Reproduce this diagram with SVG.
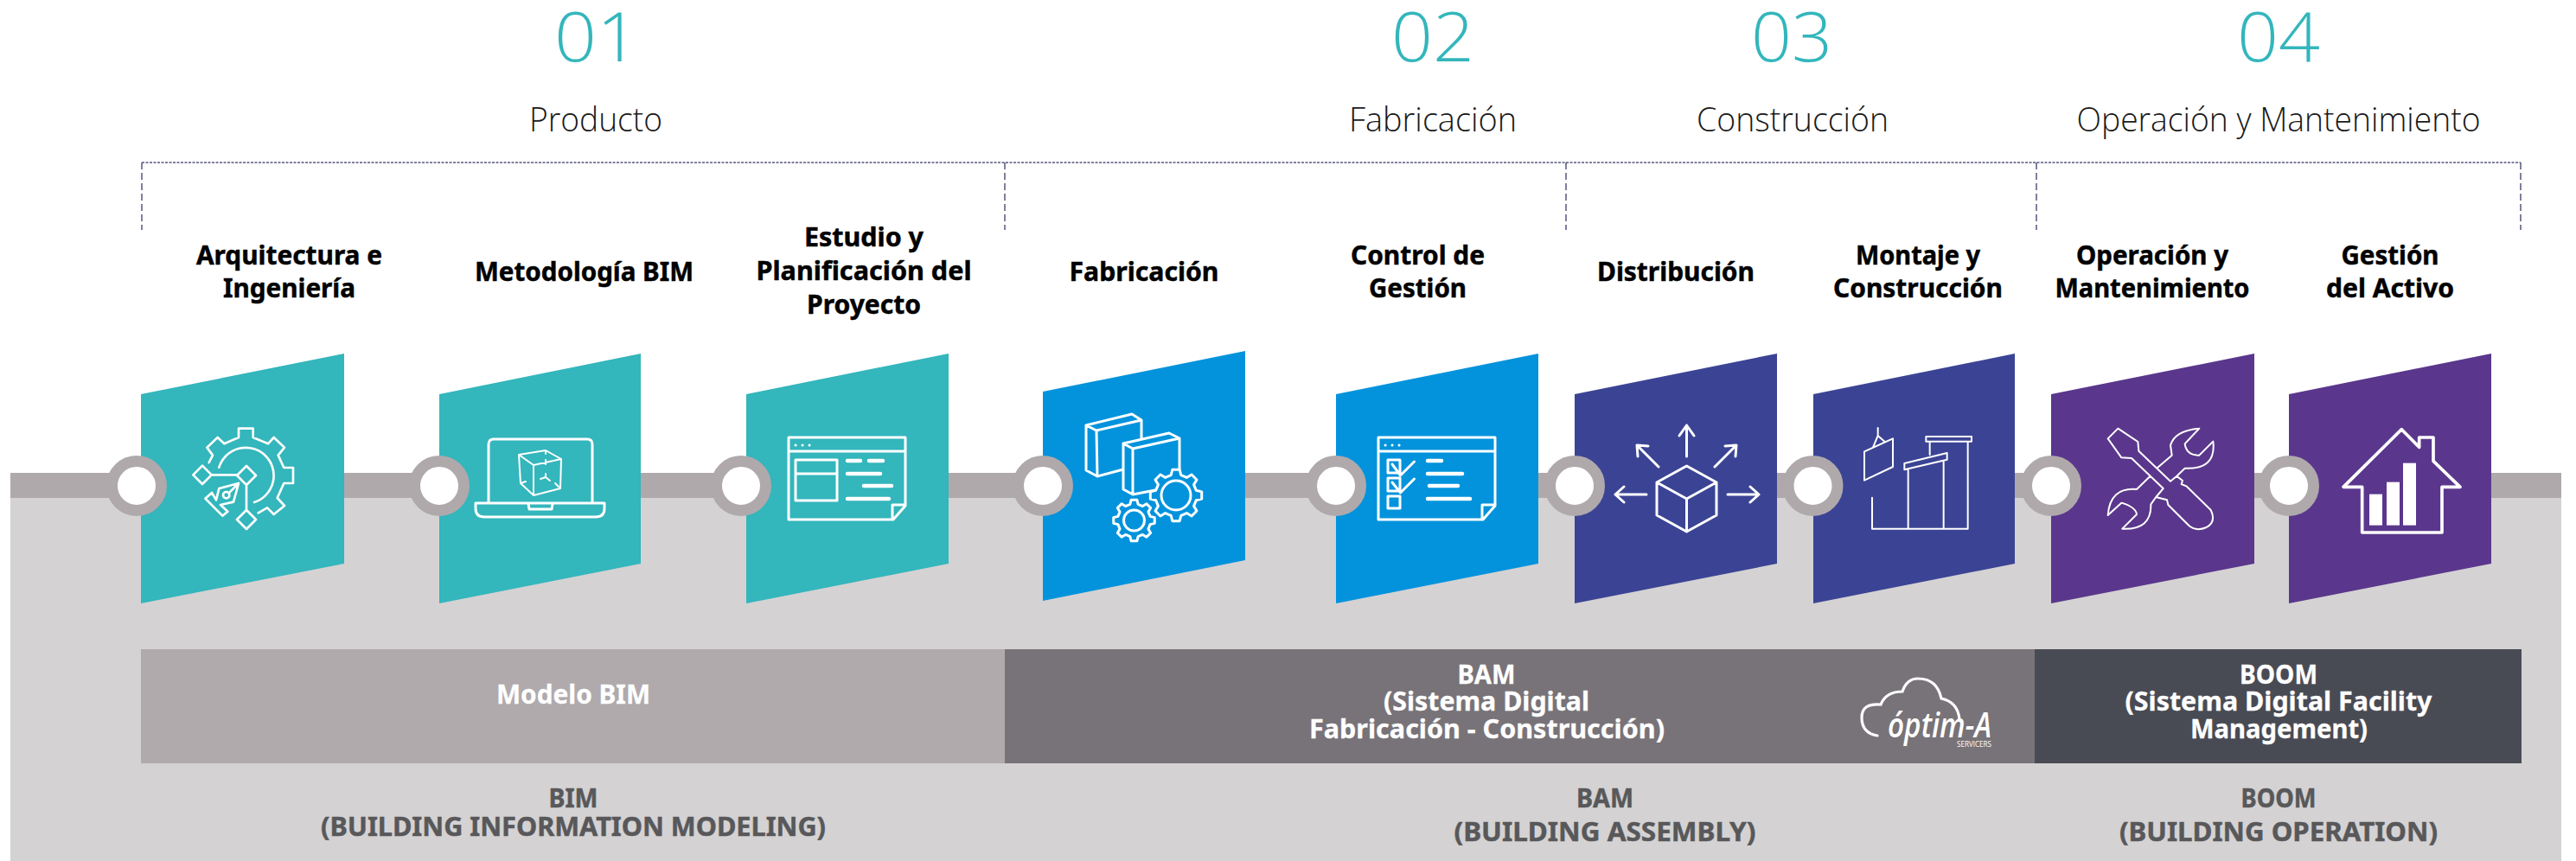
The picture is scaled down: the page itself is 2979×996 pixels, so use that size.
<svg xmlns="http://www.w3.org/2000/svg" xmlns:xlink="http://www.w3.org/1999/xlink" width="2979" height="996" viewBox="0 0 2979 996">
<style>
text{text-anchor:middle;font-family:"Noto Sans","Liberation Sans",sans-serif}
.num{font-family:"Open Sans","Noto Sans",sans-serif;font-weight:300;font-size:80px;fill:#33b6bc}
.sec{font-family:"Open Sans","Noto Sans",sans-serif;font-weight:300;font-size:39px;fill:#1a1a1a}
.lab{font-weight:700;font-size:31px;fill:#000;stroke:#000;stroke-width:.5}
.bar{font-weight:700;font-size:31px;fill:#fff;stroke:#fff;stroke-width:.3}
.sub{font-weight:700;font-size:31px;fill:#58585a;stroke:#58585a;stroke-width:.5}
.teal{fill:#33b6bc}.blue{fill:#0393dc}.ind{fill:#3b4494}.pur{fill:#5a378c}
.ring{fill:#fff;stroke:#afa9ac;stroke-width:13}
.ic{fill:none;stroke:#fff;stroke-width:3;stroke-linecap:round;stroke-linejoin:round}
.thin{stroke-width:2}
.z{stroke-width:8}
.zt{stroke-width:6}
.barw{fill:none;stroke:#fff;stroke-width:4.5;stroke-linecap:round}
.dh{fill:none;stroke:#55557f;stroke-width:1.5;stroke-dasharray:3 1.5}
.dv{fill:none;stroke:#55557f;stroke-width:1.5;stroke-dasharray:8 4}
.g{fill:none;stroke:#fff;stroke-width:3;stroke-linejoin:round;vector-effect:non-scaling-stroke}
</style>
<defs>
<polygon id="gear" class="g" points="99,13.9 77.6,19.4 68.6,41.2 79.9,60.2 60.2,79.9 41.2,68.6 19.4,77.6 13.9,99 -13.9,99 -19.4,77.6 -41.2,68.6 -60.2,79.9 -79.9,60.2 -68.6,41.2 -77.6,19.4 -99,13.9 -99,-13.9 -77.6,-19.4 -68.6,-41.2 -79.9,-60.2 -60.2,-79.9 -41.2,-68.6 -19.4,-77.6 -13.9,-99 13.9,-99 19.4,-77.6 41.2,-68.6 60.2,-79.9 79.9,-60.2 68.6,-41.2 77.6,-19.4 99,-13.9"/>
<g id="window">
<path class="ic" d="M912,506H1047V585L1033,601H912ZM1032,601V584H1047M912,522H1047"/>
<path class="ic" d="M920,515h.1M928,515h.1M936,515h.1"/>
</g>
</defs>
<rect id="bg" x="12" y="576" width="2950" height="420" fill="#d4d2d3"/>
<g id="connectors">
<rect x="12" y="547" width="2950" height="29" fill="#afa9ac"/>
<path class="dh" d="M164,188H2915"/>
<path class="dv" d="M164,188V266M1162,188V266M1811,188V266M2355,188V266M2915,188V266"/>
</g>
<g id="phase-01"><text class="num" x="690" y="71" textLength="98" lengthAdjust="spacingAndGlyphs">01</text><text class="sec" x="689" y="152" textLength="154" lengthAdjust="spacingAndGlyphs">Producto</text></g>
<g id="phase-02"><text class="num" x="1657" y="71" textLength="96" lengthAdjust="spacingAndGlyphs">02</text><text class="sec" x="1657" y="152" textLength="194" lengthAdjust="spacingAndGlyphs">Fabricación</text></g>
<g id="phase-03"><text class="num" x="2072" y="71" textLength="94" lengthAdjust="spacingAndGlyphs">03</text><text class="sec" x="2073" y="152" textLength="222" lengthAdjust="spacingAndGlyphs">Construcción</text></g>
<g id="phase-04"><text class="num" x="2635" y="71" textLength="96" lengthAdjust="spacingAndGlyphs">04</text><text class="sec" x="2635" y="152" textLength="467" lengthAdjust="spacingAndGlyphs">Operación y Mantenimiento</text></g>

<g id="node-arquitectura">
<polygon class="teal" points="163,456 398,409 398,652 163,698"/>
<circle class="ring" cx="158" cy="562" r="28.5"/>
<text class="lab" x="334.5" y="306" textLength="215" lengthAdjust="spacingAndGlyphs">Arquitectura e</text>
<text class="lab" x="334.5" y="344" textLength="153" lengthAdjust="spacingAndGlyphs">Ingeniería</text>
<g transform="translate(200 470) scale(.33333)"><path class="ic z" d="M125,195L138,170L118,143L155,108L178,130L228,108V77H278V108L330,130L350,108L387,143L365,170L385,213H417V267H385L362,318L387,345L350,375L327,352L296,370M160,212A97,97 0 1 1 282,333M70,238L102,206L134,238L102,270ZM222,240L255,207L288,240L255,273ZM222,393L255,360L288,393L255,426ZM134,238H222M255,273V360M228,267L160,285L150,325L135,300L112,320L172,380L190,365L165,342L210,332ZM228,267L197,298"/><circle class="ic z" cx="185" cy="308" r="11"/></g>
</g>

<g id="node-metodologia">
<polygon class="teal" points="508,456 741,409 741,652 508,698"/>
<circle class="ring" cx="508" cy="562" r="28.5"/>
<text class="lab" x="675.5" y="325" textLength="253" lengthAdjust="spacingAndGlyphs">Metodología BIM</text>
<path class="ic" d="M565,582V514Q565,508 571,508H679Q685,508 685,514V582M550,582H699V588Q699,598 689,598H560Q550,598 550,588ZM611,583L612,589H638L639,583"/>
<path class="ic thin" d="M600,526L631,521L649,531L617,538ZM600,526L602,559L617,573L648,565L649,531M617,538V573M631,521V525M631,532V537M631,552L625,554M631,552V548M631,552L636,556M602,559L608,557M642,559L646,563"/>
</g>

<g id="node-estudio">
<polygon class="teal" points="863,456 1097,409 1097,652 863,698"/>
<circle class="ring" cx="857" cy="562" r="28.5"/>
<text class="lab" x="999" y="285" textLength="138" lengthAdjust="spacingAndGlyphs">Estudio y</text>
<text class="lab" x="999" y="324" textLength="249" lengthAdjust="spacingAndGlyphs">Planificación del</text>
<text class="lab" x="999" y="363" textLength="132" lengthAdjust="spacingAndGlyphs">Proyecto</text>
<use xlink:href="#window" href="#window"/>
<path class="ic" d="M920,532H968V579H920ZM920,548H968"/>
<path class="barw" d="M980,533H995M1005,533H1021M980,548H1018M999,562H1031M980,577H1028"/>
</g>

<g id="node-fabricacion">
<polygon class="blue" points="1206,453 1440,406 1440,648 1206,695"/>
<circle class="ring" cx="1206" cy="562" r="28.5"/>
<text class="lab" x="1323" y="325" textLength="173" lengthAdjust="spacingAndGlyphs">Fabricación</text>
<path class="ic" d="M1268,498L1256,492L1309,479L1320,486L1268,498L1269,551L1256,544V492M1269,551L1299,543M1320,486V507M1310,519L1299,513L1352,501L1364,507L1310,519V572L1299,566V513M1310,572L1336,567M1364,507V543"/>
<use xlink:href="#gear" href="#gear" transform="translate(1360 573) scale(.3)"/>
<circle class="ic" cx="1360" cy="573" r="17"/>
<use xlink:href="#gear" href="#gear" transform="translate(1311.5 602) scale(.24)"/>
<circle class="ic" cx="1311.5" cy="602" r="12"/>
</g>

<g id="node-control">
<polygon class="blue" points="1545,456 1779,409 1779,652 1545,698"/>
<circle class="ring" cx="1545" cy="562" r="28.5"/>
<text class="lab" x="1639.5" y="306" textLength="155" lengthAdjust="spacingAndGlyphs">Control de</text>
<text class="lab" x="1639.5" y="344" textLength="113" lengthAdjust="spacingAndGlyphs">Gestión</text>
<use xlink:href="#window" href="#window" transform="translate(682 0)"/>
<path class="ic" d="M1605,532H1619V547H1605ZM1605,553H1619V568H1605ZM1605,574H1619V588H1605ZM1610,537L1619.5,550L1635.5,534M1610,558L1619.5,570L1635.5,554"/>
<path class="barw" d="M1651,533H1667M1651,548H1691M1653,562H1686M1651,577H1700"/>
</g>

<g id="node-distribucion">
<polygon class="ind" points="1821,456 2055,409 2055,652 1821,698"/>
<circle class="ring" cx="1821" cy="562" r="28.5"/>
<text class="lab" x="1938" y="325" textLength="182" lengthAdjust="spacingAndGlyphs">Distribución</text>
<path class="ic" d="M1950.5,539L1985,558L1950.5,577L1916,558ZM1916,558V596L1950.5,615L1985,596V558M1950.5,577V615M1950.5,528V492M1942,504L1950.5,492L1959,504M1918,540L1893,515M1894,528L1893,515L1906,516M1983,540L2008,515M2007,528L2008,515L1995,516M1904,572H1868M1878,563L1868,572L1878,581M1998,572H2034M2024,563L2034,572L2024,581"/>
</g>

<g id="node-montaje">
<polygon class="ind" points="2097,456 2330,409 2330,652 2097,698"/>
<circle class="ring" cx="2096.5" cy="562" r="28.5"/>
<text class="lab" x="2218" y="306" textLength="144" lengthAdjust="spacingAndGlyphs">Montaje y</text>
<text class="lab" x="2218" y="344" textLength="196" lengthAdjust="spacingAndGlyphs">Construcción</text>
<g transform="translate(2130 480) scale(.33333)"><path class="ic zt" d="M78,127L177,82V180L78,227ZM125,45V72M108,113L125,72L150,94M105,287V395H437V92M230,190V395M353,160V395M305,92V138M292,75H450V92H292ZM217,168L365,132V155L217,190Z"/></g>
</g>

<g id="node-operacion">
<polygon class="pur" points="2372,456 2607,409 2607,652 2372,698"/>
<circle class="ring" cx="2372" cy="562" r="28.5"/>
<text class="lab" x="2489" y="306" textLength="176" lengthAdjust="spacingAndGlyphs">Operación y</text>
<text class="lab" x="2489" y="344" textLength="225" lengthAdjust="spacingAndGlyphs">Mantenimiento</text>
<g transform="translate(2400 480) scale(.33333)"><path class="ic zt" d="M113,82L148,47L217,93L220,125L330,230L352,212L372,228L368,240L385,247L470,330Q490,370 455,390Q420,405 395,385L322,312L318,295L300,290L280,285L305,255L195,150L160,148ZM285,183L335,140L330,105Q345,55 430,47L380,100Q385,140 430,140L478,92Q490,190 380,185L352,212M260,212L213,258Q120,250 113,348L160,305Q210,320 213,345L163,395Q265,400 262,310L280,285"/></g>
</g>

<g id="node-gestion">
<polygon class="pur" points="2647,456 2881,409 2881,652 2647,698"/>
<circle class="ring" cx="2647" cy="562" r="28.5"/>
<text class="lab" x="2764" y="306" textLength="113" lengthAdjust="spacingAndGlyphs">Gestión</text>
<text class="lab" x="2764" y="344" textLength="148" lengthAdjust="spacingAndGlyphs">del Activo</text>
<g transform="translate(2400 480) scale(.33333)"><path class="ic" style="stroke-width:11" d="M930,250L1132,50L1193,112V78H1242V160L1335,250H1272V408H995V250Z"/><rect x="1020" y="275" width="45" height="108" fill="#fff"/><rect x="1080" y="233" width="45" height="150" fill="#fff"/><rect x="1137" y="167" width="45" height="216" fill="#fff"/></g>
</g>

<g id="band-bim">
<rect x="163" y="751" width="999" height="132" fill="#b0aaad"/>
<text class="bar" x="663" y="814" textLength="178" lengthAdjust="spacingAndGlyphs">Modelo BIM</text>
<text class="sub" x="663" y="934" textLength="57" lengthAdjust="spacingAndGlyphs">BIM</text>
<text class="sub" x="663" y="967" textLength="584" lengthAdjust="spacingAndGlyphs">(BUILDING INFORMATION MODELING)</text>
</g>
<g id="band-bam">
<rect x="1162" y="751" width="1191" height="132" fill="#787378"/>
<text class="bar" x="1719" y="791" textLength="67" lengthAdjust="spacingAndGlyphs">BAM</text>
<text class="bar" x="1719" y="822" textLength="238" lengthAdjust="spacingAndGlyphs">(Sistema Digital</text>
<text class="bar" x="1719.5" y="854" textLength="411" lengthAdjust="spacingAndGlyphs">Fabricación - Construcción)</text>
<text class="sub" x="1856" y="934" textLength="66" lengthAdjust="spacingAndGlyphs">BAM</text>
<text class="sub" x="1856" y="973" textLength="349" lengthAdjust="spacingAndGlyphs">(BUILDING ASSEMBLY)</text>
</g>
<g id="logo-optima">
<path d="M2171,851Q2153,848 2153,830Q2153,813 2175,815Q2181,800 2200,800Q2205,785 2218,785Q2240,785 2245,808Q2264,812 2266,832" fill="none" stroke="#fff" stroke-width="3.2" stroke-linecap="round"/>
<text x="2243" y="853" style="font-family:'Open Sans','Noto Sans',sans-serif;font-style:italic;font-weight:600;font-size:40px;fill:#fff" textLength="120" lengthAdjust="spacingAndGlyphs">óptim-A</text>
<text x="2283" y="864" style="font-family:'Open Sans','Noto Sans',sans-serif;font-size:9px;fill:#fff" textLength="40" lengthAdjust="spacingAndGlyphs">SERVICERS</text>
</g>
<g id="band-boom">
<rect x="2353" y="751" width="563" height="132" fill="#494b54"/>
<text class="bar" x="2635" y="791" textLength="90" lengthAdjust="spacingAndGlyphs">BOOM</text>
<text class="bar" x="2635" y="822" textLength="355" lengthAdjust="spacingAndGlyphs">(Sistema Digital Facility</text>
<text class="bar" x="2635.5" y="854" textLength="205" lengthAdjust="spacingAndGlyphs">Management)</text>
<text class="sub" x="2635" y="934" textLength="87" lengthAdjust="spacingAndGlyphs">BOOM</text>
<text class="sub" x="2635" y="973" textLength="368" lengthAdjust="spacingAndGlyphs">(BUILDING OPERATION)</text>
</g>
</svg>
